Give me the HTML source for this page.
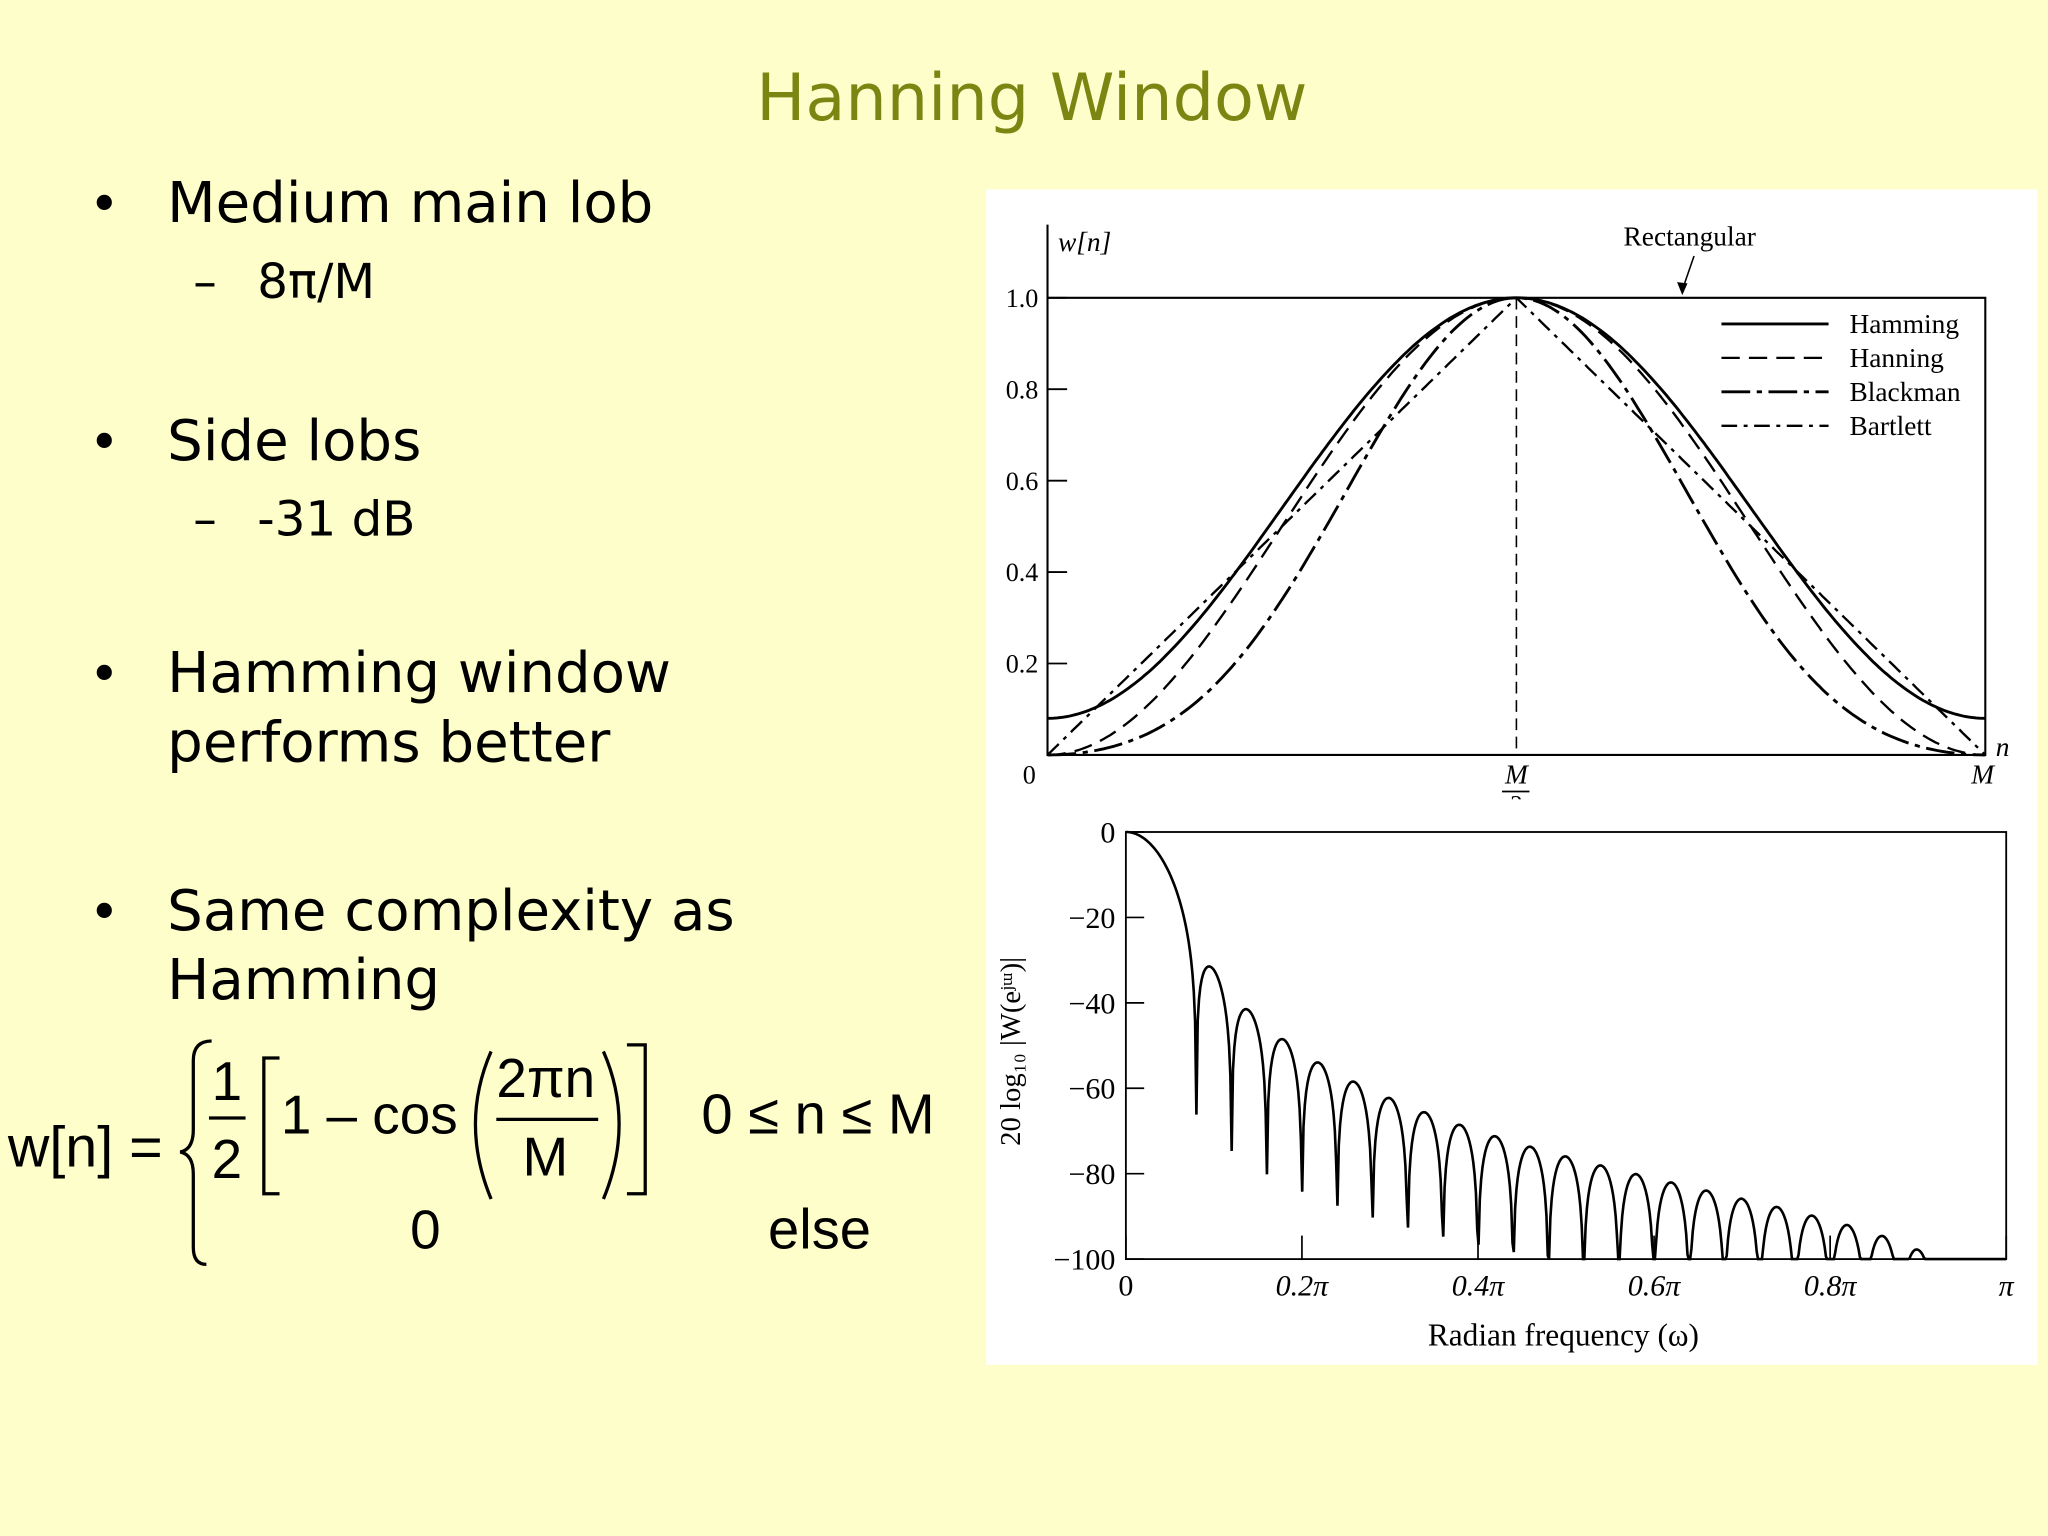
<!DOCTYPE html>
<html><head><meta charset="utf-8"><style>
html,body{margin:0;padding:0;background:#fefecb;}
svg{display:block;}
.s{font-family:"Liberation Sans",sans-serif;}
.v{font-family:"DejaVu Sans","Liberation Sans",sans-serif;}
.r{font-family:"Liberation Serif",serif;}
</style></head><body>
<svg id="root" width="2048" height="1536" viewBox="0 0 1568 1176" xmlns="http://www.w3.org/2000/svg">
<rect width="1568" height="1176" fill="#fefecb"/>
<text x="790" y="92" text-anchor="middle" class="v" font-size="50" fill="#7b8612">Hanning Window</text>
<g class="v" fill="#000">
<text x="68" y="170" font-size="40">•</text><text x="128" y="170" font-size="43">Medium main lob</text>
<text x="148" y="228" font-size="36">–</text><text x="197" y="228" font-size="37">8π/M</text>
<text x="68" y="352" font-size="40">•</text><text x="128" y="352" font-size="43">Side lobs</text>
<text x="148" y="410" font-size="36">–</text><text x="197" y="410" font-size="37">-31 dB</text>
<text x="68" y="530" font-size="40">•</text><text x="128" y="530" font-size="43">Hamming window</text>
<text x="128" y="583" font-size="43">performs better</text>
<text x="68" y="712" font-size="40">•</text><text x="128" y="712" font-size="43">Same complexity as</text>
<text x="128" y="765" font-size="43">Hamming</text>
</g>
<g class="s" fill="#000">
<text x="6" y="893" font-size="44">w[n] =</text>
<path d="M162,797 Q148,797 148,812 L148,865 Q148,880 138,882 Q148,884 148,899 L148,955 Q148,968 158,968" fill="none" stroke="#000" stroke-width="2.5"/>
<text x="162" y="842" font-size="42">1</text>
<line x1="160" y1="856" x2="188" y2="856" stroke="#000" stroke-width="2.5"/>
<text x="162" y="902" font-size="42">2</text>
<path d="M214,810 L202,810 L202,914 L214,914" fill="none" stroke="#000" stroke-width="2.5"/>
<text x="215" y="868" font-size="42">1 – cos</text>
<path d="M376,805 Q352,860 376,918" fill="none" stroke="#000" stroke-width="2.5"/>
<text x="380" y="840" font-size="42">2πn</text>
<line x1="380" y1="857" x2="458" y2="857" stroke="#000" stroke-width="2.5"/>
<text x="400" y="900" font-size="42">M</text>
<path d="M462,805 Q486,860 462,918" fill="none" stroke="#000" stroke-width="2.5"/>
<path d="M480,800 L494,800 L494,914 L480,914" fill="none" stroke="#000" stroke-width="2.5"/>
<text x="537" y="868" font-size="43">0 ≤ n ≤ M</text>
<text x="314" y="956" font-size="42">0</text>
<text x="588" y="956" font-size="43">else</text>
</g>
<rect x="755" y="145" width="805" height="900" fill="#fff"/>
<g id="topChart" class="r"></g>
<g id="botChart" class="r"></g>
</svg>
<script>
// ---- top chart data ----
const windowNames = ["Hamming","Hanning","Blackman","Bartlett"];
const cosA0 = [0.54, 0.5, 0.42];
const cosA1 = [0.46, 0.5, 0.5];
const cosA2 = [0, 0, 0.08];
const wTicks = [0.2, 0.4, 0.6, 0.8, 1.0];
const wTickLabels = ["0.2","0.4","0.6","0.8","1.0"];
// ---- bottom chart data ----
const specM = 50;
const dbTicks = [0, -20, -40, -60, -80, -100];
const dbTickLabels = ["0","\u221220","\u221240","\u221260","\u221280","\u2212100"];
const freqTicks = [0, 0.2, 0.4, 0.6, 0.8, 1.0];
const freqTickLabels = ["0","0.2\u03c0","0.4\u03c0","0.6\u03c0","0.8\u03c0","\u03c0"];

const NS="http://www.w3.org/2000/svg";
function mk(parent, tag, attrs, txt){const el=document.createElementNS(NS,tag);for(const k in attrs)el.setAttribute(k,attrs[k]);if(txt!==undefined)el.textContent=txt;parent.appendChild(el);return el;}

const topG=document.getElementById('topChart');
const X0=802,X1=1520,Y0=578,Y1=228;
const tx=t=>X0+t*(X1-X0), ty=v=>Y0-v*(Y0-Y1);
let e;
e=mk(topG,'path',{d:`M${X0},172 L${X0},${Y0} L${X1},${Y0} L${X1},${Y1} L${X0},${Y1}`,fill:'none',stroke:'#000','stroke-width':1.6});


wTicks.forEach((v,i)=>{
  mk(topG,'line',{x1:X0,x2:X0+15,y1:ty(v),y2:ty(v),stroke:'#000','stroke-width':1.4});
  e=mk(topG,'text',{x:795,y:ty(v)+7,'text-anchor':'end','font-size':20},wTickLabels[i]);
  
  
});
mk(topG,'text',{x:788,y:600,'text-anchor':'middle','font-size':20},'0');
mk(topG,'line',{x1:1161,x2:1161,y1:Y1,y2:Y0,stroke:'#000','stroke-width':1.2,'stroke-dasharray':'9,5'});
mk(topG,'text',{x:1161,y:600,'text-anchor':'middle','font-size':21,'font-style':'italic'},'M');
mk(topG,'line',{x1:1150,x2:1171,y1:606,y2:606,stroke:'#000','stroke-width':1.4});
mk(topG,'text',{x:1161,y:622,'text-anchor':'middle','font-size':19},'2');
mk(topG,'rect',{x:1140,y:612,width:40,height:14,fill:'#fff'});
mk(topG,'text',{x:1518,y:600,'text-anchor':'middle','font-size':21,'font-style':'italic'},'M');
mk(topG,'text',{x:1528,y:579,'font-size':21,'font-style':'italic'},'n');
e=mk(topG,'text',{x:810,y:192,'font-size':21,'font-style':'italic'},'w[n]');


mk(topG,'text',{x:1243,y:188,'font-size':21},'Rectangular');
mk(topG,'line',{x1:1297,y1:196,x2:1288,y2:222,stroke:'#000','stroke-width':1.2});
mk(topG,'path',{d:'M1284,216 L1288,226 L1292,217 Z',fill:'#000'});
const dashes=['', '14,7', '22,5,4,5', '12,5,3,5'];
const widths=[2.2,1.8,2.2,1.8];
function winVal(k,t){
  if(k<3) return cosA0[k]-cosA1[k]*Math.cos(2*Math.PI*t)+cosA2[k]*Math.cos(4*Math.PI*t);
  return 1-Math.abs(2*t-1);
}
windowNames.forEach((nm,k)=>{
  let d='';
  for(let i=0;i<=300;i++){const t=i/300;d+=(i?'L':'M')+tx(t).toFixed(1)+','+ty(winVal(k,t)).toFixed(1);}
  e=mk(topG,'path',{d:d,fill:'none',stroke:'#000','stroke-width':widths[k],'stroke-dasharray':dashes[k]});
  
  
  const ly=248+26*k;
  mk(topG,'line',{x1:1318,x2:1400,y1:ly,y2:ly,stroke:'#000','stroke-width':widths[k],'stroke-dasharray':dashes[k]});
  e=mk(topG,'text',{x:1416,y:ly+7,'font-size':21},nm);
  
  
});

const botG=document.getElementById('botChart');
const BX0=862,BX1=1536,BY0=637,BY1=964;
const bx=f=>BX0+f*(BX1-BX0), by=db=>BY0+(-db/100)*(BY1-BY0);
e=mk(botG,'rect',{x:BX0,y:BY0,width:BX1-BX0,height:BY1-BY0,fill:'none',stroke:'#000','stroke-width':1.4});


dbTicks.forEach((v,i)=>{
  mk(botG,'line',{x1:BX0,x2:BX0+14,y1:by(v),y2:by(v),stroke:'#000','stroke-width':1.3});
  e=mk(botG,'text',{x:854,y:by(v)+8,'text-anchor':'end','font-size':23},dbTickLabels[i]);
  
  
});
freqTicks.forEach((v,i)=>{
  mk(botG,'line',{x1:bx(v),x2:bx(v),y1:BY1,y2:BY1-18,stroke:'#000','stroke-width':1.3});
  e=mk(botG,'text',{x:bx(v),y:992,'text-anchor':'middle','font-size':23,'font-style':i?'italic':'normal'},freqTickLabels[i]);
  
  
});
e=mk(botG,'text',{x:1197,y:1030,'text-anchor':'middle','font-size':24},'Radian frequency (\u03c9)');


e=mk(botG,'text',{x:0,y:0,'text-anchor':'middle','font-size':22,transform:'translate(781,805) rotate(-90)'},'20 log\u2081\u2080 |W(e\u02b2\u1d5a)|');


const w=[];for(let n=0;n<=specM;n++)w.push(0.5-0.5*Math.cos(2*Math.PI*n/specM));
const sum=w.reduce((a,b)=>a+b,0);
let dd='';const NP=674;
for(let i=0;i<=NP;i++){
  const om=Math.PI*i/NP;let re=0,im=0;
  for(let n=0;n<=specM;n++){re+=w[n]*Math.cos(om*n);im-=w[n]*Math.sin(om*n);}
  let db=20*Math.log10(Math.max(1e-12,Math.hypot(re,im)/sum));
  db=Math.max(-100,Math.min(0,db));
  dd+=(i?'L':'M')+bx(i/NP).toFixed(1)+','+by(db).toFixed(1);
}
e=mk(botG,'path',{d:dd,fill:'none',stroke:'#000','stroke-width':2});


</script>
</body></html>
